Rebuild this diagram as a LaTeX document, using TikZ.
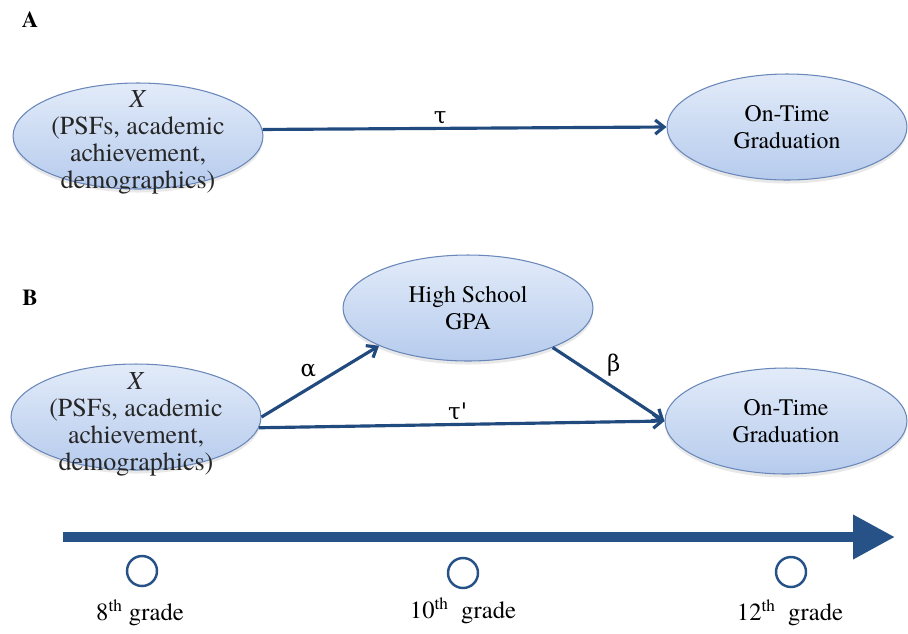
\documentclass[tikz,border=0pt]{standalone}
\usepackage{fontspec}
\setmainfont{TeX Gyre Termes}
\newfontfamily\greekfont{DejaVu Serif}
\usetikzlibrary{arrows.meta,shapes.geometric,shadows}

\definecolor{bubtop}{RGB}{226,235,249}
\definecolor{bubbot}{RGB}{182,203,237}
\definecolor{bubedge}{RGB}{105,135,185}
\definecolor{pathblue}{RGB}{33,74,126}
\definecolor{lineblue}{RGB}{38,82,136}

\newcommand{\figfont}{\fontsize{13.5}{15.5}\selectfont}

\tikzset{
    bubble/.style={ellipse, draw=bubedge, line width=0.6pt, top color=bubtop, bottom color=bubbot,
        minimum width=5cm, minimum height=2.12cm, inner sep=0pt, align=center, font=\figfont,
        drop shadow={opacity=0.18, shadow xshift=0pt, shadow yshift=-2pt}},
    bubtext/.style={align=center, inner sep=0pt, font=\fontsize{14.8}{15.4}\selectfont, text=black!85},
    panel/.style={font=\fontsize{13}{15}\selectfont\bfseries},
    path/.style={draw=pathblue, line width=1.8pt, -{Straight Barb[length=5pt, width=8pt]}},
    lbl/.style={font=\fontsize{13}{15}\selectfont\greekfont, inner sep=1.5pt},
    timeline/.style={draw=lineblue, line width=0.2cm, -{Triangle[length=0.84cm, width=0.84cm]}},
    tick/.style={circle, draw=lineblue, line width=1.4pt, minimum size=0.6cm, inner sep=0pt},
    grade/.style={font=\fontsize{14}{16}\selectfont, inner sep=0pt}
}

\begin{document}
\begin{tikzpicture}[x=0.02cm, y=-0.02cm]
        \useasboundingbox (0,0) rectangle (908,633);

        % Panel A
        \node[panel] (pa) at (30,20) {A};
        \node[bubble] (xa) at (138,136) {};
        \node[bubtext] (xatext) at (138,142) {\textit{X}\\(PSFs, academic\\achievement,\\demographics)};
        \node[bubble, minimum width=4.8cm] (oa) at (787,127) {On-Time\\Graduation};

        \draw[path] (xa.3) -- node[pos=.44, above, lbl] {τ} (oa.west);

        % Panel B
        \node[panel] (pb) at (30,298) {B};
        \node[bubble] (xb) at (136,417) {};
        \node[bubtext] (xbtext) at (136,424) {\textit{X}\\(PSFs, academic\\achievement,\\demographics)};
        \node[bubble] (gb) at (468,308) {High School\\GPA};
        \node[bubble, minimum width=4.84cm] (ob) at (786,421) {On-Time\\Graduation};

        \draw[path] (xb.east) -- node[pos=.5, above left, lbl] {α} (gb.203);
        \draw[path] (gb.-25) -- node[pos=.45, above right, lbl] {β} (ob.west);
        \draw[path] (xb.-5) -- node[pos=.49, above, lbl] {τ'} (ob.west);

        % Time line
        \coordinate (tstart) at (63,537);
        \coordinate (tend) at (895,537);
        \draw[timeline] (tstart) -- (tend);

        \node[tick] (c8) at (142,571) {};
        \node[tick] (c10) at (463,573) {};
        \node[tick] (c12) at (791,572) {};

        \node[grade] (g8) at (140,613) {8\textsuperscript{th} grade};
        \node[grade] (g10) at (463,611) {10\textsuperscript{th}\ \ grade};
        \node[grade] (g12) at (790,613) {12\textsuperscript{th}\ \ grade};
\end{tikzpicture}
\end{document}
